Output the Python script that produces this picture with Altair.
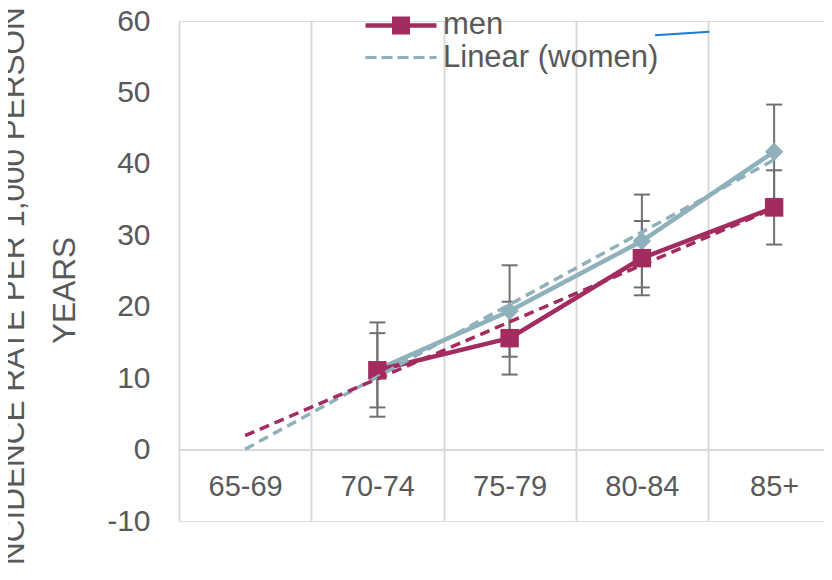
import json
import altair as alt
import pandas as pd

# ---------------- data ----------------
categories = ["65-69", "70-74", "75-79", "80-84", "85+"]
cat_index = [1, 2, 3, 4, 5]

women_cats = ["70-74", "75-79", "80-84", "85+"]
women_vals = [11.2, 19.4, 29.2, 41.7]
women_err = [6.6, 6.4, 6.5, 6.6]

men_cats = ["70-74", "75-79", "80-84", "85+"]
men_vals = [11.1, 15.6, 26.8, 33.9]
men_err = [5.2, 5.1, 5.2, 5.2]

y_ticks = [-10, 0, 10, 20, 30, 40, 50, 60]
band_edges = [0.5, 1.5, 2.5, 3.5, 4.5]
legend_names = ["women", "men", "Linear (women)"]

# small stray blue segment near the top of the reference
stray_x = [4.10]
stray_x2 = [4.51]
stray_y = [58.0]
stray_y2 = [58.5]

# ---------------- styles ----------------
MEN = "#A22B5F"
WOMEN = "#8FB1BB"
ERR = "#707070"
GRID = "#D9D9D9"
TEXT = "#595959"
FONT = "Liberation Sans"

PLOT_W = 645
PLOT_H = 500
PX_PER_CAT = 132.25

rows = []
for c, v, e in zip(women_cats, women_vals, women_err):
    rows.append({"series": "women", "cat": c, "idx": categories.index(c) + 1, "val": v, "err": e})
for c, v, e in zip(men_cats, men_vals, men_err):
    rows.append({"series": "men", "cat": c, "idx": categories.index(c) + 1, "val": v, "err": e})
df = pd.DataFrame(rows)

x_scale = alt.Scale(domain=[0.5, 0.5 + PLOT_W / PX_PER_CAT], nice=False, zero=False)
y_scale = alt.Scale(domain=[-10, 60], nice=False, zero=False)

label_expr = json.dumps(categories) + "[datum.value - 1]"

x_label_axis = alt.Axis(
    values=cat_index, labelExpr=label_expr, title=None, grid=False, ticks=False,
    domain=True, domainColor=GRID, domainWidth=2, offset=-PLOT_H / 70 * 10,
    labelFontSize=29, labelFont=FONT, labelColor=TEXT, labelPadding=37,
    labelBaseline="middle", labelFlush=False, labelOverlap=False,
)
x_grid_axis = alt.Axis(
    values=band_edges, orient="top", title=None, grid=True, gridColor=GRID, gridWidth=2,
    labels=False, ticks=False, domain=False,
)
y_axis = alt.Axis(
    values=y_ticks, labelExpr="'' + datum.value",
    title=["INCIDENCE RATE PER 1,000 PERSON", "YEARS"],
    grid=False, ticks=False, domain=False,
    labelFontSize=30, labelFont=FONT, labelColor=TEXT, labelPadding=29,
    titleFontSize=31.5, titleFont=FONT, titleColor=TEXT, titleFontWeight="normal",
    titleAngle=270, titleX=-156, titleY=269, titleAlign="center",
    titleBaseline="alphabetic", titleLineHeight=51,
)

base = alt.Chart(df)
women = base.transform_filter(alt.datum.series == "women")
men = base.transform_filter(alt.datum.series == "men")

XN = lambda f: alt.X(f, scale=x_scale, axis=None)
YA = lambda f: alt.Y(f, scale=y_scale, axis=y_axis)

# axis carriers
grid_layer = alt.Chart(pd.DataFrame({"idx": band_edges, "v": [0] * 5})).mark_point(opacity=0).encode(
    x=alt.X("idx:Q", scale=x_scale, axis=x_grid_axis), y=YA("v:Q"),
)
label_layer = alt.Chart(pd.DataFrame({"idx": cat_index, "v": [0] * 5})).mark_point(opacity=0).encode(
    x=alt.X("idx:Q", scale=x_scale, axis=x_label_axis), y=YA("v:Q"),
)

def err_layers(src):
    s = src.transform_calculate(lo="datum.val - datum.err", hi="datum.val + datum.err")
    rule = s.mark_rule(color=ERR, strokeWidth=2).encode(x=XN("idx:Q"), y=YA("lo:Q"), y2="hi:Q")
    lo = s.mark_tick(color=ERR, orient="horizontal", size=16, thickness=2, opacity=1).encode(
        x=XN("idx:Q"), y=YA("lo:Q"))
    hi = s.mark_tick(color=ERR, orient="horizontal", size=16, thickness=2, opacity=1).encode(
        x=XN("idx:Q"), y=YA("hi:Q"))
    return [rule, lo, hi]

enc = dict(x=XN("idx:Q"), y=YA("val:Q"))

women_line = women.mark_line(color=WOMEN, strokeWidth=4.5).encode(**enc)
men_line = men.mark_line(color=MEN, strokeWidth=4.5).encode(**enc)
women_pts = women.mark_point(shape="diamond", filled=True, size=340, opacity=1, color=WOMEN).encode(**enc)
men_pts = men.mark_point(shape="square", filled=True, size=340, opacity=1, color=MEN).encode(**enc)

women_trend = women.transform_regression("idx", "val", method="linear", extent=[1, 5]).mark_line(
    color=WOMEN, strokeWidth=3.5, strokeDash=[10, 6]).encode(**enc)
men_trend = men.transform_regression("idx", "val", method="linear", extent=[1, 5]).mark_line(
    color=MEN, strokeWidth=3.5, strokeDash=[10, 6]).encode(**enc)

stray = alt.Chart(pd.DataFrame({"x": stray_x, "x2": stray_x2, "y": stray_y, "y2": stray_y2})).mark_rule(
    color="#1B7BCF", strokeWidth=2).encode(x=XN("x:Q"), x2="x2:Q", y=YA("y:Q"), y2="y2:Q")

# legend symbols: custom paths (unit r = 10 px for size 400)
def fx(v):
    return round(v - 0.1, 3)

def rect(x0, x1, h, dy=0.0):
    return (f"M{fx(x0)},{round(dy - h, 3)}L{fx(x1)},{round(dy - h, 3)}"
            f"L{fx(x1)},{round(dy + h, 3)}L{fx(x0)},{round(dy + h, 3)}Z")

path_women = rect(-6.1, 1.0, 0.22, 0.1) + f" M{fx(-2.55)},-0.9L{fx(-1.55)},0.1L{fx(-2.55)},1.1L{fx(-3.55)},0.1Z"
path_men = rect(-6.1, 1.0, 0.22, 0.1) + " " + rect(-3.45, -1.65, 0.9, 0.1)
dashes = [(-6.1, -5.0), (-4.5, -3.4), (-2.9, -1.8), (-1.3, -0.2), (0.3, 1.0)]
path_lin = " ".join(rect(a, b, 0.16) for a, b in dashes)

legend_def = alt.Legend(
    orient="none", legendX=233, legendY=-45, title=None, direction="vertical",
    symbolSize=400, symbolStrokeWidth=0, labelFontSize=31, labelFont=FONT,
    labelColor=TEXT, labelOffset=0, labelLimit=500, padding=0, rowPadding=1,
)
legend_layer = alt.Chart(pd.DataFrame({"name": legend_names})).transform_filter("false").mark_point(
    filled=True, opacity=1).encode(
    color=alt.Color("name:N", scale=alt.Scale(domain=legend_names, range=[WOMEN, MEN, WOMEN]), legend=legend_def),
    shape=alt.Shape("name:N", scale=alt.Scale(domain=legend_names, range=[path_women, path_men, path_lin]), legend=legend_def),
)

layers = [grid_layer, label_layer] + err_layers(women) + err_layers(men) + [
    women_line, men_line, women_pts, men_pts, women_trend, men_trend, stray, legend_layer]

chart = alt.layer(*layers).resolve_axis(x="independent").properties(
    width=PLOT_W, height=PLOT_H,
    autosize=alt.AutoSizeParams(type="none"),
    padding={"left": 171, "top": 13, "right": 0, "bottom": 45},
).configure_view(stroke=None).configure(background="white")

chart.save("out.html", embed_options={"renderer": "svg", "actions": False})
